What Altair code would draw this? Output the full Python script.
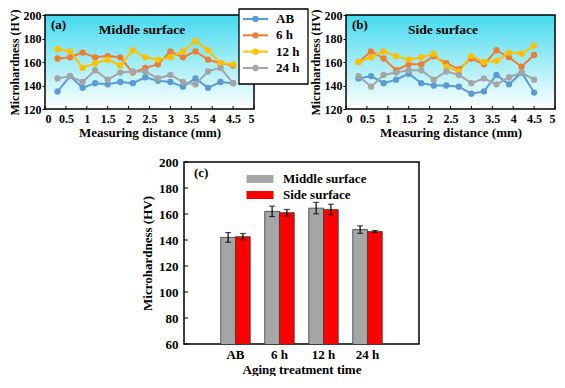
import altair as alt
import pandas as pd

FONT = "Liberation Serif"

# ---------------- data ----------------
dist = [0.3, 0.6, 0.9, 1.2, 1.5, 1.8, 2.1, 2.4, 2.7, 3.0, 3.3, 3.6, 3.9, 4.2, 4.5]
series_names = ["AB", "6 h", "12 h", "24 h"]
series_colors = ["#5B9BD5", "#ED7D31", "#FFC000", "#A5A5A5"]

middle_AB = [135, 148, 138, 142, 141, 143, 142, 147, 144, 143, 139, 146, 138, 143, 142]
middle_6h = [163, 164, 168, 164, 165, 164, 151, 155, 158, 169, 164, 169, 162, 159, 157]
middle_12h = [171, 169, 155, 159, 162, 157, 170, 164, 162, 164, 169, 178, 170, 159, 158]
middle_24h = [146, 148, 143, 153, 145, 151, 152, 152, 146, 149, 143, 141, 152, 155, 142]

side_AB = [146, 148, 142, 145, 150, 142, 140, 140, 139, 133, 135, 149, 141, 151, 134]
side_6h = [160, 169, 163, 153, 158, 158, 165, 159, 154, 163, 158, 170, 164, 156, 166]
side_12h = [160, 164, 169, 165, 162, 164, 167, 156, 152, 165, 160, 161, 168, 167, 174]
side_24h = [148, 139, 149, 151, 153, 153, 145, 152, 149, 142, 146, 141, 147, 151, 145]

x_tick_values = [0, 0.5, 1, 1.5, 2, 2.5, 3, 3.5, 4, 4.5, 5]
hv_tick_values = [120, 140, 160, 180, 200]

bar_groups = ["AB", "6 h", "12 h", "24 h"]
bar_surfaces = ["Middle surface", "Side surface"]
bar_colors = ["#A6A6A6", "#FF0000"]
middle_mean = [142, 162, 164.5, 148]
middle_err = [3.7, 4.0, 4.4, 2.9]
side_mean = [142.5, 161, 163.5, 146.5]
side_err = [2.5, 2.5, 4.0, 0.8]
bar_tick_values = [60, 80, 100, 120, 140, 160, 180, 200]

# ---------------- layout ----------------
W, H = 209, 94
WC, HC = 235, 182

grad = alt.LinearGradient(
    gradient="linear",
    stops=[alt.GradientStop(color="#45DAEE", offset=0),
           alt.GradientStop(color="#FFFFFF", offset=1)],
    x1=0, x2=0, y1=0, y2=1,
)

one = pd.DataFrame({"k": [0]})
sc = alt.Scale(domain=series_names, range=series_colors)


def line_panel(values, tag, label, with_legend):
    rows = []
    for name, vals in zip(series_names, values):
        for d, v in zip(dist, vals):
            rows.append({"dist": d, "hv": v, "series": name})
    df = pd.DataFrame(rows)

    xenc = alt.X("dist:Q", scale=alt.Scale(domain=[0, 5], nice=False, zero=False),
                 axis=alt.Axis(values=x_tick_values, labelExpr="'' + datum.value",
                               title="Measuring distance (mm)", ticks=False, domain=False,
                               grid=False, labelPadding=4, titlePadding=2,
                               labelFontSize=12, titleFontSize=13))
    yenc = alt.Y("hv:Q", scale=alt.Scale(domain=[120, 200], nice=False, zero=False),
                 axis=alt.Axis(values=hv_tick_values, title="Microhardness (HV)",
                               tickSize=3, tickColor="black", domain=False, grid=False,
                               labelPadding=1, titlePadding=2, labelFontSize=12,
                               titleFontSize=12))

    bg = alt.Chart(one).mark_rect(fill=grad, stroke="black", strokeWidth=1.5).encode(
        x=alt.value(0), x2=alt.value(W), y=alt.value(0), y2=alt.value(H))

    xt = alt.Chart(pd.DataFrame({"dist": x_tick_values})).mark_rule(
        color="black", strokeWidth=1).encode(x=xenc, y=alt.value(H), y2=alt.value(H - 3))

    lines = alt.Chart(df).mark_line(strokeWidth=2).encode(
        x=xenc, y=yenc, color=alt.Color("series:N", scale=sc, legend=None))

    pts = alt.Chart(df).mark_point(filled=True, size=40, opacity=1, strokeWidth=1).encode(
        x=xenc, y=yenc, color=alt.Color("series:N", scale=sc, legend=None))

    tag_txt = alt.Chart(pd.DataFrame({"t": [tag]})).mark_text(
        align="left", baseline="middle", font=FONT, fontSize=13, fontWeight="bold",
        color="black").encode(x=alt.value(6), y=alt.value(10), text="t:N")
    lab_txt = alt.Chart(pd.DataFrame({"t": [label]})).mark_text(
        align="center", baseline="middle", font=FONT, fontSize=13.5, fontWeight="bold",
        color="black").encode(x=alt.value(97), y=alt.value(15), text="t:N")

    data_layer = alt.layer(bg, xt, lines, pts, tag_txt, lab_txt)
    if not with_legend:
        return data_layer.properties(width=W, height=H)

    # legend drawn from the series names through a row scale
    ldf = pd.DataFrame({"series": series_names})
    row = alt.Y("series:N", sort=series_names,
                scale=alt.Scale(type="point", domain=series_names, range=[4, 53], padding=0),
                axis=None)
    box = alt.Chart(one).mark_rect(fill="white", stroke="black", strokeWidth=1.3).encode(
        x=alt.value(194), x2=alt.value(263), y=alt.value(-6), y2=alt.value(69))
    lrule = alt.Chart(ldf).mark_rule(strokeWidth=2).encode(
        x=alt.value(198), x2=alt.value(223), y=row,
        color=alt.Color("series:N", scale=sc, legend=None))
    lpt = alt.Chart(ldf).mark_point(filled=True, size=40, opacity=1).encode(
        x=alt.value(210.5), y=row, color=alt.Color("series:N", scale=sc, legend=None))
    ltxt = alt.Chart(ldf).mark_text(
        align="left", baseline="middle", font=FONT, fontSize=13, fontWeight="bold",
        color="black").encode(x=alt.value(231), y=row, text="series:N")
    legend_layer = alt.layer(box, lrule, lpt, ltxt)

    return alt.layer(data_layer, legend_layer).resolve_scale(y="independent").properties(
        width=W, height=H)


panel_a = line_panel([middle_AB, middle_6h, middle_12h, middle_24h], "(a)", "Middle surface", True)
panel_b = line_panel([side_AB, side_6h, side_12h, side_24h], "(b)", "Side surface", False)

# ---------------- bar panel ----------------
brows = []
for g, m, e in zip(bar_groups, middle_mean, middle_err):
    brows.append({"group": g, "surface": bar_surfaces[0], "mean": m, "lo": m - e, "hi": m + e})
for g, m, e in zip(bar_groups, side_mean, side_err):
    brows.append({"group": g, "surface": bar_surfaces[1], "mean": m, "lo": m - e, "hi": m + e})
bdf = pd.DataFrame(brows)

yaxis_c = alt.Axis(values=bar_tick_values, title="Microhardness (HV)", ticks=False,
                   domain=False, grid=False, labelPadding=6, titlePadding=4,
                   labelFontSize=13, titleFontSize=13)
yscale_c = alt.Scale(domain=[60, 200], nice=False, zero=False)


def yb(field):
    return alt.Y(field, scale=yscale_c, axis=yaxis_c, title="Microhardness (HV)")


xb = alt.X("group:N", sort=bar_groups,
           scale=alt.Scale(domain=bar_groups, paddingInner=0.33, paddingOuter=0.835),
           axis=alt.Axis(title="Aging treatment time", labelAngle=0, ticks=False,
                         domain=False, labelPadding=4, titlePadding=2,
                         labelFontSize=13, titleFontSize=13))
xo = alt.XOffset("surface:N", sort=bar_surfaces,
                 scale=alt.Scale(domain=bar_surfaces, paddingInner=0, paddingOuter=0))

legc = alt.Legend(
    title=None, orient="none", legendX=69.5, legendY=10.5,
    symbolType="M-3.375,-1H3.375V1H-3.375Z", symbolSize=64, symbolStrokeWidth=0,
    symbolOpacity=1, labelFont=FONT, labelFontSize=13, labelFontWeight="bold",
    labelColor="black", labelOffset=16.5, rowPadding=2, padding=0,
)

frame_c = alt.Chart(one).mark_rect(fill="white", stroke="black", strokeWidth=1.5).encode(
    x=alt.value(0), x2=alt.value(WC), y=alt.value(0), y2=alt.value(HC))

bars = alt.Chart(bdf).mark_bar(stroke="#3A3A3A", strokeWidth=0.8, clip=True).encode(
    x=xb, xOffset=xo, y=yb("mean:Q"),
    color=alt.Color("surface:N", sort=bar_surfaces,
                    scale=alt.Scale(domain=bar_surfaces, range=bar_colors), legend=legc))

err = alt.Chart(bdf).mark_rule(color="black", strokeWidth=1.2).encode(
    x=xb, xOffset=xo, y=yb("lo:Q"), y2="hi:Q")
cap_lo = alt.Chart(bdf).mark_tick(color="black", thickness=1.2, size=6).encode(
    x=xb, xOffset=xo, y=yb("lo:Q"))
cap_hi = alt.Chart(bdf).mark_tick(color="black", thickness=1.2, size=6).encode(
    x=xb, xOffset=xo, y=yb("hi:Q"))

yt = alt.Chart(pd.DataFrame({"mean": bar_tick_values})).mark_rule(
    color="black", strokeWidth=1).encode(y=yb("mean:Q"), x=alt.value(0), x2=alt.value(4))

tag_c = alt.Chart(pd.DataFrame({"t": ["(c)"]})).mark_text(
    align="left", baseline="middle", font=FONT, fontSize=13, fontWeight="bold",
    color="black").encode(x=alt.value(10), y=alt.value(11), text="t:N")

panel_c = alt.layer(frame_c, bars, err, cap_lo, cap_hi, yt, tag_c).properties(width=WC, height=HC)

spacer = alt.Chart(one).mark_point(opacity=0, size=1).encode(
    x=alt.value(10), y=alt.value(10)).properties(width=139, height=HC)

top_row = alt.hconcat(panel_a, panel_b, spacing=92, bounds="flush").resolve_scale(
    color="independent")
bottom_row = alt.hconcat(spacer, panel_c, spacing=0, bounds="flush").resolve_scale(
    color="independent")

chart = alt.vconcat(top_row, bottom_row, spacing=17).resolve_scale(
    color="independent"
).properties(padding=0).configure_view(stroke=None).configure_axis(
    labelFont=FONT, labelFontWeight="bold", labelColor="black",
    titleFont=FONT, titleFontWeight="bold", titleColor="black",
)

chart.save("out.html", embed_options={"renderer": "svg", "actions": False})
